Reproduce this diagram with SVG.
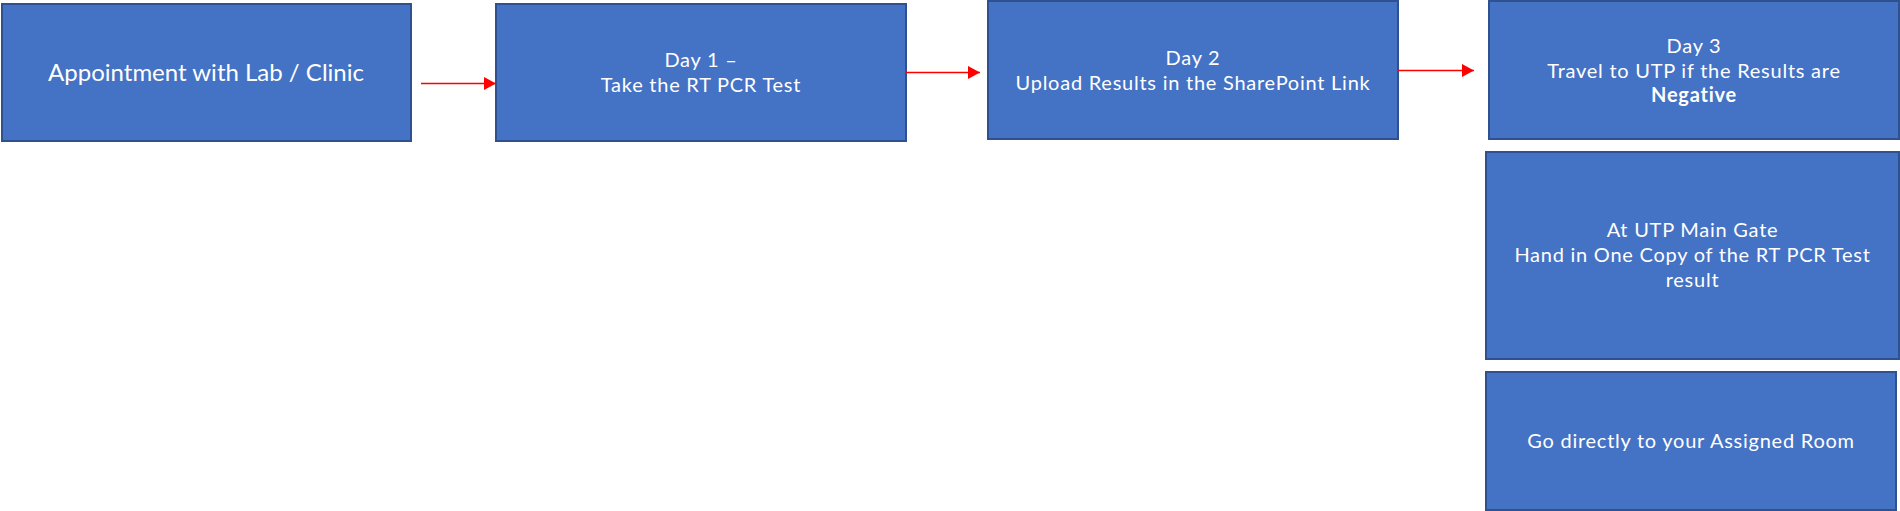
<svg xmlns="http://www.w3.org/2000/svg" width="1900" height="511" viewBox="0 0 1900 511">
  <style>
    .box { fill: #4472C4; stroke: #2F528F; stroke-width: 2; }
    .t { fill: #FFFFFF; font-family: Lato, "Open Sans", "Liberation Sans", sans-serif; font-size: 20px; text-anchor: middle; letter-spacing: 0.75px; }
    .big { font-size: 24px; letter-spacing: 0; }
    .b { font-weight: bold; }
    .conn { stroke: #FF0000; stroke-width: 1.5; fill: none; marker-end: url(#arrow); }
  </style>
  <defs>
    <marker id="arrow" markerUnits="userSpaceOnUse" markerWidth="13" markerHeight="13" refX="12" refY="6.5" orient="auto">
      <path d="M0,0 L12,6.5 L0,13 Z" fill="#FF0000"/>
    </marker>
  </defs>
  <rect width="1900" height="511" fill="#FFFFFF"/>

  <g id="node-appointment">
    <rect class="box" x="2" y="4" width="409" height="137"/>
    <text class="t big" x="206" y="81">Appointment with Lab / Clinic</text>
  </g>
  <g id="node-day1">
    <rect class="box" x="496" y="4" width="410" height="137"/>
    <text class="t" x="701" y="67">Day 1 –</text>
    <text class="t" x="701" y="92">Take the RT PCR Test</text>
  </g>
  <g id="node-day2">
    <rect class="box" x="988" y="1" width="410" height="138"/>
    <text class="t" x="1193" y="65">Day 2</text>
    <text class="t" x="1193" y="90">Upload Results in the SharePoint Link</text>
  </g>
  <g id="node-day3">
    <rect class="box" x="1489" y="1" width="410" height="138"/>
    <text class="t" x="1694" y="53">Day 3</text>
    <text class="t" x="1694" y="78">Travel to UTP if the Results are</text>
    <text class="t b" x="1694" y="102">Negative</text>
  </g>
  <g id="node-gate">
    <rect class="box" x="1486" y="152" width="413" height="207"/>
    <text class="t" x="1692.5" y="237">At UTP Main Gate</text>
    <text class="t" x="1692.5" y="262">Hand in One Copy of the RT PCR Test</text>
    <text class="t" x="1692.5" y="287">result</text>
  </g>
  <g id="node-room">
    <rect class="box" x="1486" y="372" width="410" height="138"/>
    <text class="t" x="1691" y="448">Go directly to your Assigned Room</text>
  </g>

  <g id="connectors">
    <line class="conn" x1="421" y1="83.5" x2="496" y2="83.5"/>
    <line class="conn" x1="906" y1="72.5" x2="980" y2="72.5"/>
    <line class="conn" x1="1398" y1="70.5" x2="1474" y2="70.5"/>
  </g>
</svg>
